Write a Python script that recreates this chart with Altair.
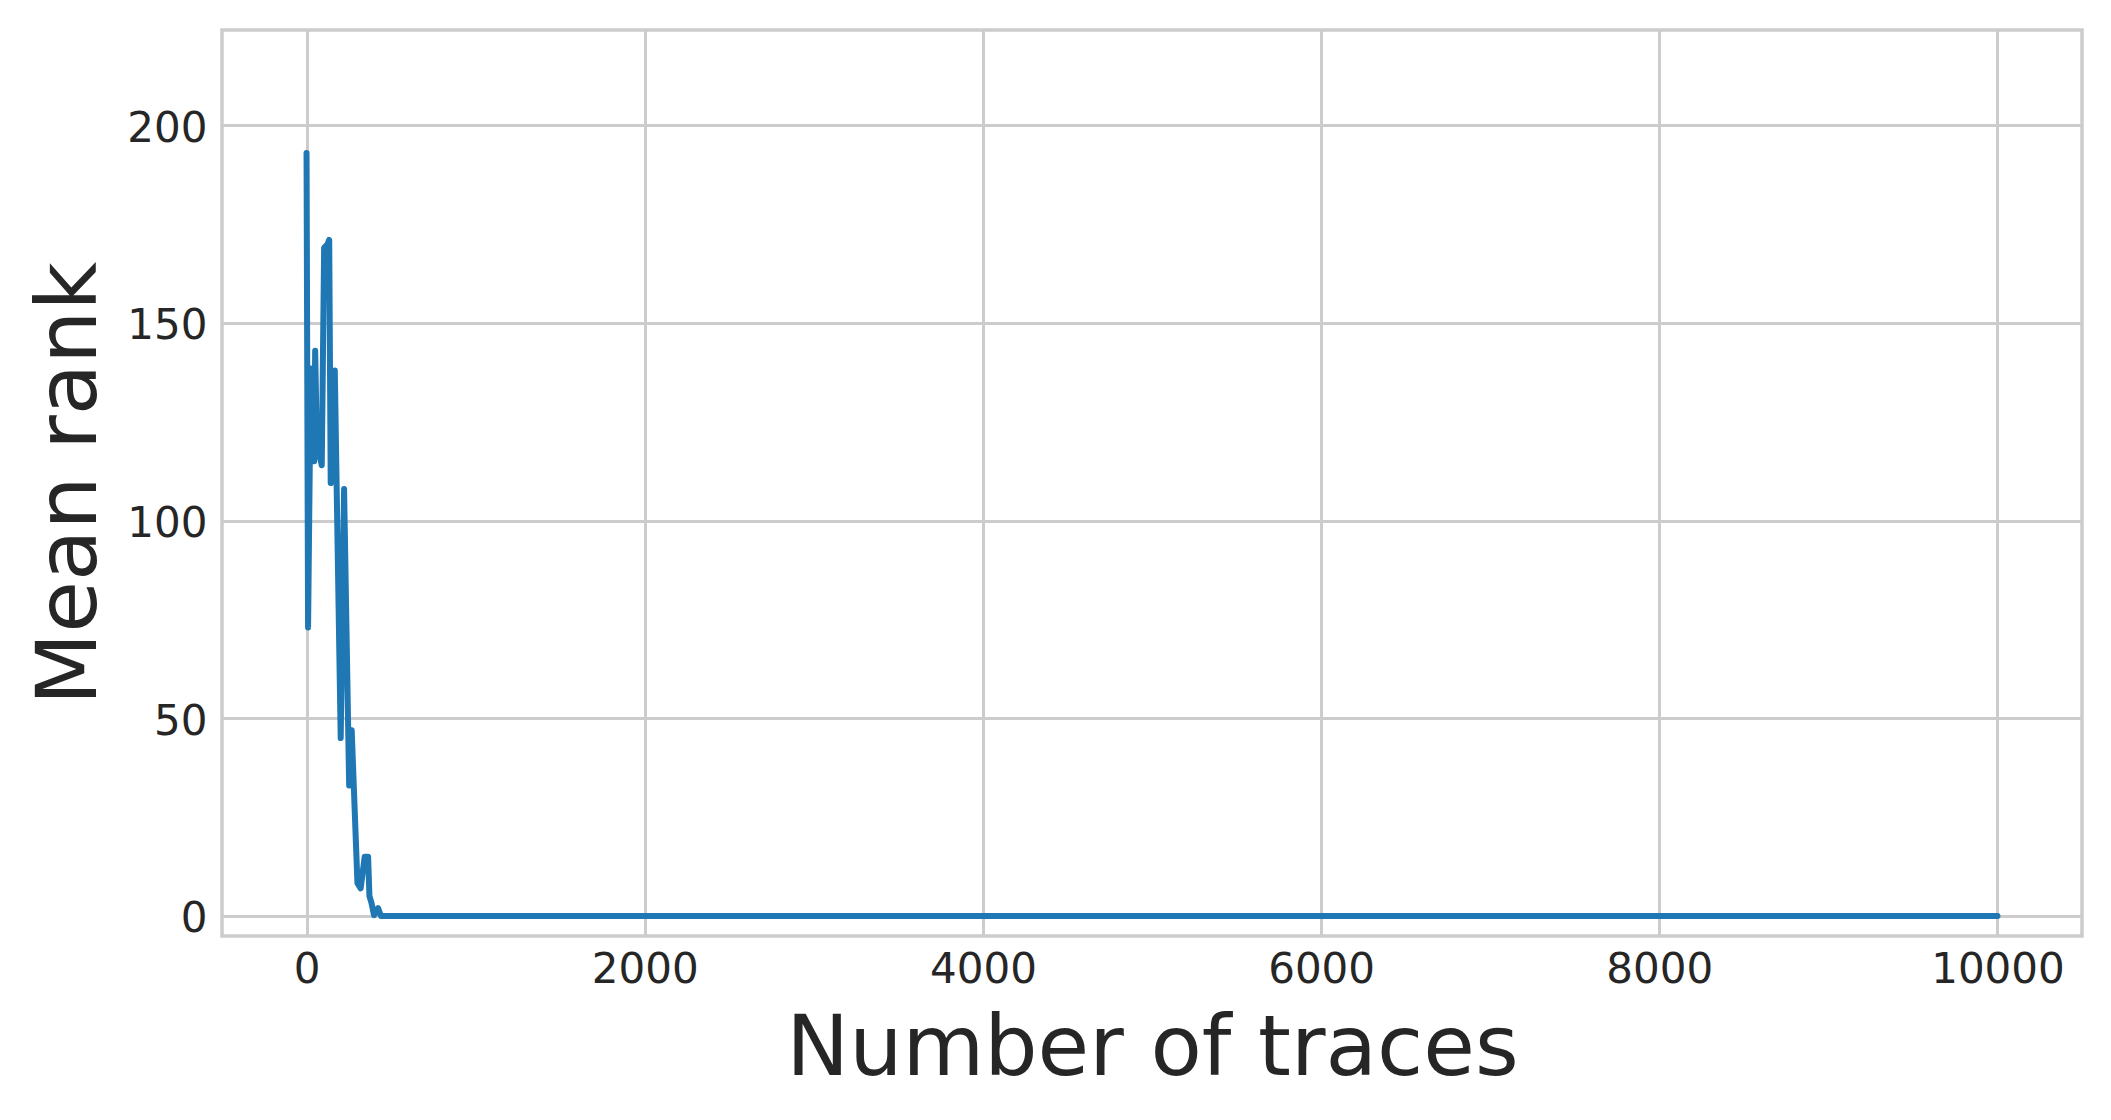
import altair as alt
import pandas as pd

# Number of traces (x) and mean rank (y)
traces = [0, 9, 25, 45, 51, 61, 90, 104, 115, 125, 134, 143, 167, 202, 222,
          252, 267, 301, 320, 344, 364, 372, 384, 399, 423, 440, 10000]
mean_rank = [193, 73, 138.5, 115, 143, 119.5, 114, 169, 169.5, 170, 171, 109.5, 138, 45, 108,
             33, 47, 8.3, 7, 15, 15, 5, 3.3, 0.2, 2, 0, 0]

x_ticks = [0, 2000, 4000, 6000, 8000, 10000]
y_ticks = [0, 50, 100, 150, 200]

df = pd.DataFrame({"traces": traces, "rank": mean_rank})

FONT = "DejaVu Sans"
TXT = "#262626"
GRID = "#cccccc"

chart = alt.Chart(df).mark_line(
    color="#1f77b4", strokeWidth=6, strokeCap="round", strokeJoin="round", clip=True
).encode(
    x=alt.X("traces:Q",
            scale=alt.Scale(domain=[-500, 10500], nice=False, zero=False),
            axis=alt.Axis(values=x_ticks, format="d", title="Number of traces",
                          titleX=930, titleY=138, titleBaseline="alphabetic",
                          labelPadding=13)),
    y=alt.Y("rank:Q",
            scale=alt.Scale(domain=[-5.06, 224.1], nice=False, zero=False),
            axis=alt.Axis(values=y_ticks, title="Mean rank",
                          titleX=-127, titleY=453, titleAngle=-90,
                          titleBaseline="alphabetic", titleAlign="center",
                          labelPadding=15, labelOffset=3)),
).properties(
    width=1860, height=906,
    autosize=alt.AutoSizeParams(type="none"),
    padding={"left": 214, "top": 22, "right": 21, "bottom": 160},
).configure_view(
    stroke=GRID, strokeWidth=3.5
).configure_axis(
    grid=True, gridColor=GRID, gridWidth=3,
    domain=False, ticks=False, tickSize=0,
    labelFont=FONT, labelFontSize=42, labelColor=TXT,
    titleFont=FONT, titleFontSize=84, titleColor=TXT, titleFontWeight="normal",
)

chart.save("out.html", embed_options={"renderer": "svg", "actions": False})
